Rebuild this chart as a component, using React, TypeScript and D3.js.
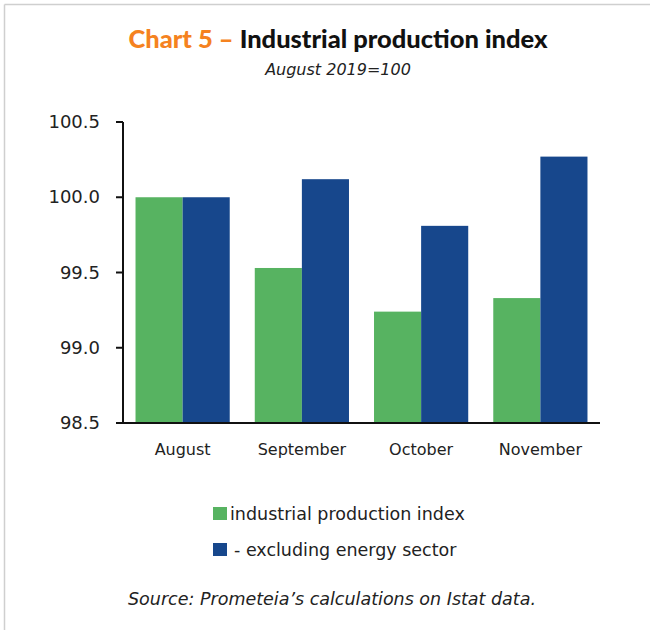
import React from "react";
import * as d3 from "d3";

const categories = ["August", "September", "October", "November"];
const seriesNames = ["industrial production index", "- excluding energy sector"];
const totalIndex = [100.0, 99.53, 99.24, 99.33];
const exEnergy = [100.0, 100.12, 99.81, 100.27];
const yTicks = [98.5, 99.0, 99.5, 100.0, 100.5];
const colors = ["#57b361", "#17478c"];

const W = 650;
const H = 630;
const left = 123;
const right = 600;
const top = 122;
const bottom = 423;

export default function App() {
  const x0 = d3.scaleBand<string>().domain(categories).range([left, right]).paddingInner(0.21).paddingOuter(0.105);
  const x1 = d3.scaleBand<number>().domain([0, 1]).range([0, x0.bandwidth()]);
  const y = d3.scaleLinear().domain([98.5, 100.5]).range([bottom, top]);
  const series = [totalIndex, exEnergy];
  const font = "'DejaVu Sans', sans-serif";

  return (
    <svg width={W} height={H} style={{ position: "absolute", left: 0, top: 0, background: "#fff" }}>
      <rect x={0} y={0} width={W} height={H} fill="#fff" />
      <line x1={4.5} y1={4.5} x2={W} y2={4.5} stroke="#cfcfcf" strokeWidth={1.5} />
      <line x1={4.5} y1={4.5} x2={4.5} y2={H} stroke="#cfcfcf" strokeWidth={1.5} />
      <text x={338} y={48} textAnchor="middle" fontFamily="Lato, sans-serif" fontWeight={900} fontSize={24} textLength={419} lengthAdjust="spacingAndGlyphs">
        <tspan fill="#f58220">Chart 5 – </tspan>
        <tspan fill="#111">Industrial production index</tspan>
      </text>
      <text x={338} y={75} textAnchor="middle" fontFamily={font} fontStyle="italic" fontSize={16} fill="#222">August 2019=100</text>
      {series.map((vals, si) =>
        categories.map((c, i) => (
          <rect key={`${si}-${i}`} x={(x0(c) as number) + (x1(si) as number)} y={y(vals[i])} width={x1.bandwidth()} height={bottom - y(vals[i])} fill={colors[si]} />
        ))
      )}
      <line x1={left} y1={top} x2={left} y2={bottom + 1} stroke="#111" strokeWidth={2} />
      <line x1={left - 1} y1={bottom} x2={right} y2={bottom} stroke="#111" strokeWidth={2} />
      {yTicks.map((t) => (
        <g key={t}>
          <line x1={left - 7} x2={left} y1={y(t)} y2={y(t)} stroke="#111" strokeWidth={2} />
          <text x={100} y={y(t) + 6} textAnchor="end" fontFamily={font} fontSize={18} fill="#222">{t.toFixed(1)}</text>
        </g>
      ))}
      {categories.map((c) => (
        <text key={c} x={(x0(c) as number) + x0.bandwidth() / 2} y={455} textAnchor="middle" fontFamily={font} fontSize={16} fill="#222">{c}</text>
      ))}
      <rect x={213} y={507} width={14} height={13} fill={colors[0]} />
      <text x={230} y={520} fontFamily={font} fontSize={17.5} fill="#222">{seriesNames[0]}</text>
      <rect x={213} y={543} width={14} height={13} fill={colors[1]} />
      <text x={234} y={556} fontFamily={font} fontSize={17.5} fill="#222">{seriesNames[1]}</text>
      <text x={332} y={605} textAnchor="middle" fontFamily={font} fontStyle="italic" fontSize={17.5} fill="#222">Source: Prometeia’s calculations on Istat data.</text>
    </svg>
  );
}
